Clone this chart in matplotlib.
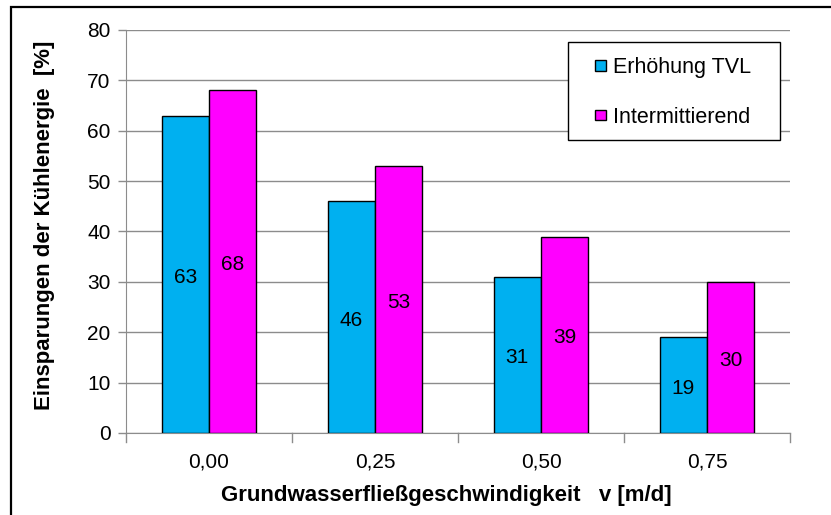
import matplotlib
matplotlib.use("Agg")
import matplotlib.pyplot as plt
import numpy as np
from matplotlib.patches import Rectangle
from matplotlib.legend_handler import HandlerPatch

plt.rcParams['font.family'] = ['Liberation Sans', 'DejaVu Sans']

categories = ["0,00", "0,25", "0,50", "0,75"]
erhoehung_tvl = [63, 46, 31, 19]
intermittierend = [68, 53, 39, 30]
series_names = ["Erhöhung TVL", "Intermittierend"]
y_ticks = [0, 10, 20, 30, 40, 50, 60, 70, 80]

blue = "#00B0F0"
magenta = "#FF00FF"
grid_grey = "#8C8C8C"
FS = 15
FS_LABEL = 16
FS_LEGEND = 15.5

W, H = 831, 515
fig = plt.figure(figsize=(W / 100, H / 100), dpi=100)
ax = fig.add_axes([126 / W, 1 - 433 / H, (790 - 126) / W, (433 - 30) / H])

x = np.arange(len(categories))
w = 0.285
b1 = ax.bar(x - w / 2, erhoehung_tvl, w, color=blue, edgecolor="black", linewidth=1.0,
            label=series_names[0], zorder=3)
b2 = ax.bar(x + w / 2, intermittierend, w, color=magenta, edgecolor="black", linewidth=1.0,
            label=series_names[1], zorder=3)

for bars, vals in ((b1, erhoehung_tvl), (b2, intermittierend)):
    for rect, v in zip(bars, vals):
        ax.text(rect.get_x() + rect.get_width() / 2, v / 2 - 0.6, f"{v}", ha="center",
                va="center", fontsize=FS, zorder=4)

ax.set_xlim(-0.5, len(categories) - 0.5)
ax.set_ylim(0, 80)
ax.set_yticks(y_ticks)
ax.set_yticklabels([str(t) for t in y_ticks], fontsize=FS)
ax.set_xticks(x)
ax.set_xticklabels(categories, fontsize=FS)
ax.tick_params(axis="x", length=0, pad=14)
ax.tick_params(axis="y", length=6, width=1, color=grid_grey, pad=5)

# category separator ticks below the x axis
for xb in np.arange(-0.5, len(categories), 1.0):
    ax.plot([xb, xb], [0, -1.8], color=grid_grey, lw=1, clip_on=False, zorder=2)

ax.yaxis.grid(True, color=grid_grey, lw=1, zorder=0)
for s in ("top", "right"):
    ax.spines[s].set_visible(False)
ax.spines["left"].set_color(grid_grey)
ax.spines["bottom"].set_color(grid_grey)

ax.set_xlabel("Grundwasserfließgeschwindigkeit   v [m/d]", fontsize=FS_LABEL, fontweight="bold")
ax.set_ylabel("Einsparungen der Kühlenergie  [%]", fontsize=FS_LABEL, fontweight="bold")
ax.xaxis.set_label_coords(0.483, -0.13)
ax.yaxis.set_label_coords(-0.107, 0.515)


def small_square(legend, orig_handle, xdescent, ydescent, width, height, fontsize):
    s = 0.5 * fontsize
    return Rectangle((width - s - xdescent, (height - s) / 2 - ydescent), s, s)


# legend box drawn separately so its padding can differ per side
legend_box = Rectangle((568 / W, 1 - 140 / H), 212 / W, 98 / H, transform=fig.transFigure,
                       facecolor="white", edgecolor="black", linewidth=1.0, zorder=5,
                       clip_on=False)
ax.add_patch(legend_box)

leg = ax.legend(handles=[b1.patches[0], b2.patches[0]], labels=series_names,
                loc="upper left", bbox_to_anchor=(595 / W, 1 - 57 / H),
                bbox_transform=fig.transFigure, fontsize=FS_LEGEND, frameon=False,
                handlelength=0.5, handleheight=0.7, handletextpad=0.33,
                labelspacing=1.33, borderpad=0, borderaxespad=0,
                handler_map={Rectangle: HandlerPatch(patch_func=small_square)})
leg.set_zorder(6)

# outer chart frame
fig.patches.append(Rectangle((11 / W, -0.1), 1.2, 1 - 7 / H + 0.1, transform=fig.transFigure,
                             fill=False, edgecolor="black", linewidth=1.6))

fig.savefig("out.png", dpi=100)
